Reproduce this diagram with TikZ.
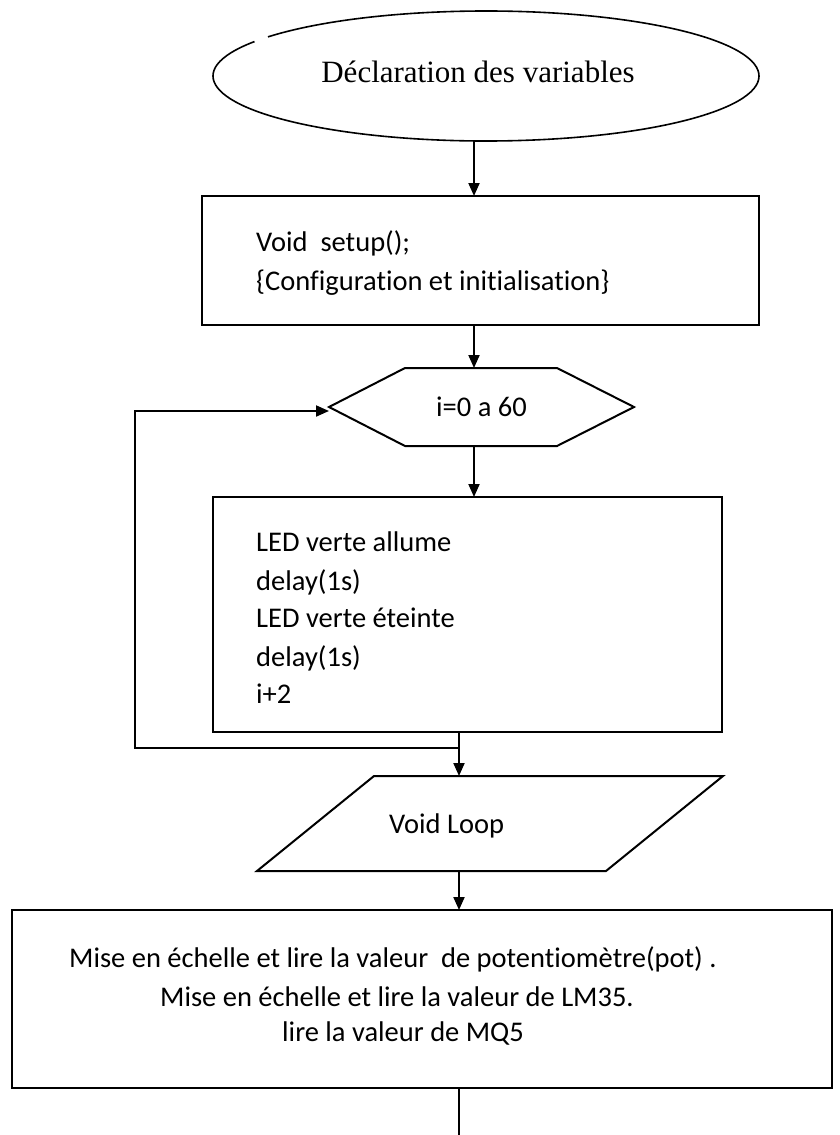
\documentclass[tikz,border=0pt]{standalone}
\usepackage{fontspec}
\setmainfont[Ligatures=NoCommon]{Carlito}
\newfontfamily\serifttl{Liberation Serif}
\usetikzlibrary{arrows.meta,shapes.geometric}
\begin{document}
\begin{tikzpicture}[x=1pt,y=-1pt]
\tikzset{
  frame/.style={draw, line width=2pt, inner sep=0pt, outer sep=0pt},
  ghost/.style={inner sep=0pt, outer sep=0pt},
  body/.style={font=\fontsize{28.5}{34}\selectfont, inner sep=0pt, anchor=base west},
  flow/.style={line width=2pt, -{Triangle[length=13pt,width=11pt]}},
  plain/.style={line width=2pt},
}
\useasboundingbox (0,0) rectangle (840,1135);
\fill[white] (0,0) rectangle (840,1135);

\coordinate (spine) at (474,0);
\coordinate (spine2) at (459,0);

% ellipse
\node[ghost, ellipse, minimum width=546pt, minimum height=130pt] (decl) at (486,76) {};
\draw[line width=1.6pt] ([shift={(217:273 and 65)}]decl.center) arc[start angle=217,end angle=572,x radius=273,y radius=65];
\node[font=\serifttl\fontsize{31}{36}\selectfont, inner sep=0pt, anchor=base] (decltxt) at (478,82) {Déclaration des variables};

% setup box
\node[frame, anchor=north west, minimum width=557pt, minimum height=129pt] (setup) at (202,196) {};
\node[body] (s1) at (256,251) {Void\ \ setup();};
\node[body] (s2) at (256,290) {\{Configuration et initialisation\}};

% hexagon
\node[ghost, minimum width=305pt, minimum height=78pt, font=\fontsize{28.5}{34}\selectfont] (hex) at (481.5,407) {i=0 a 60};
\draw[plain, line join=miter] (hex.west) -- ([xshift=76pt]hex.north west) -- ([xshift=-77pt]hex.north east) -- (hex.east) -- ([xshift=-77pt]hex.south east) -- ([xshift=76pt]hex.south west) -- cycle;

% LED box
\node[frame, anchor=north west, minimum width=509pt, minimum height=235pt] (leds) at (213,497) {};
\node[body] (l1) at (256,551) {LED verte allume};
\node[body] (l2) at (256,590) {delay(1s)};
\node[body] (l3) at (256,627) {LED verte éteinte};
\node[body] (l4) at (256,666) {delay(1s)};
\node[body] (l5) at (256,703) {i+2};

% parallelogram
\node[ghost, minimum width=466pt, minimum height=95pt] (loop) at (490,823.5) {};
\draw[plain, line join=miter] ([xshift=117pt]loop.north west) -- (loop.north east) -- ([xshift=-117pt]loop.south east) -- (loop.south west) -- cycle;
\node[body] (looptxt) at (389,833) {Void Loop};

% bottom box
\node[frame, anchor=north west, minimum width=820pt, minimum height=178pt] (mes) at (12,910) {};
\node[body] (m1) at (69,967) {Mise en échelle et lire la valeur\ \ de potentiomètre(pot) .};
\node[body] (m2) at (160,1006) {Mise en échelle et lire la valeur de LM35.};
\node[body] (m3) at (282,1041) {lire la valeur de MQ5};

% connectors
\draw[flow] (decl.south -| spine) -- (setup.north -| spine);
\draw[flow] (setup.south -| spine) -- (hex.north -| spine);
\draw[flow] (hex.south -| spine) -- (leds.north -| spine);
\draw[flow] (leds.south -| spine2) -- (loop.north -| spine2);
\coordinate (lb) at (459,748);
\coordinate (lc) at (135,748);
\coordinate (lt) at (135,411);
\draw[flow] (lb) -- (lc) -- (lt) -- (hex.west |- lt);
\draw[flow] (loop.south -| spine2) -- (mes.north -| spine2);
\coordinate (tail) at (459,1135);
\draw[plain] (mes.south -| spine2) -- (tail);
\end{tikzpicture}
\end{document}
